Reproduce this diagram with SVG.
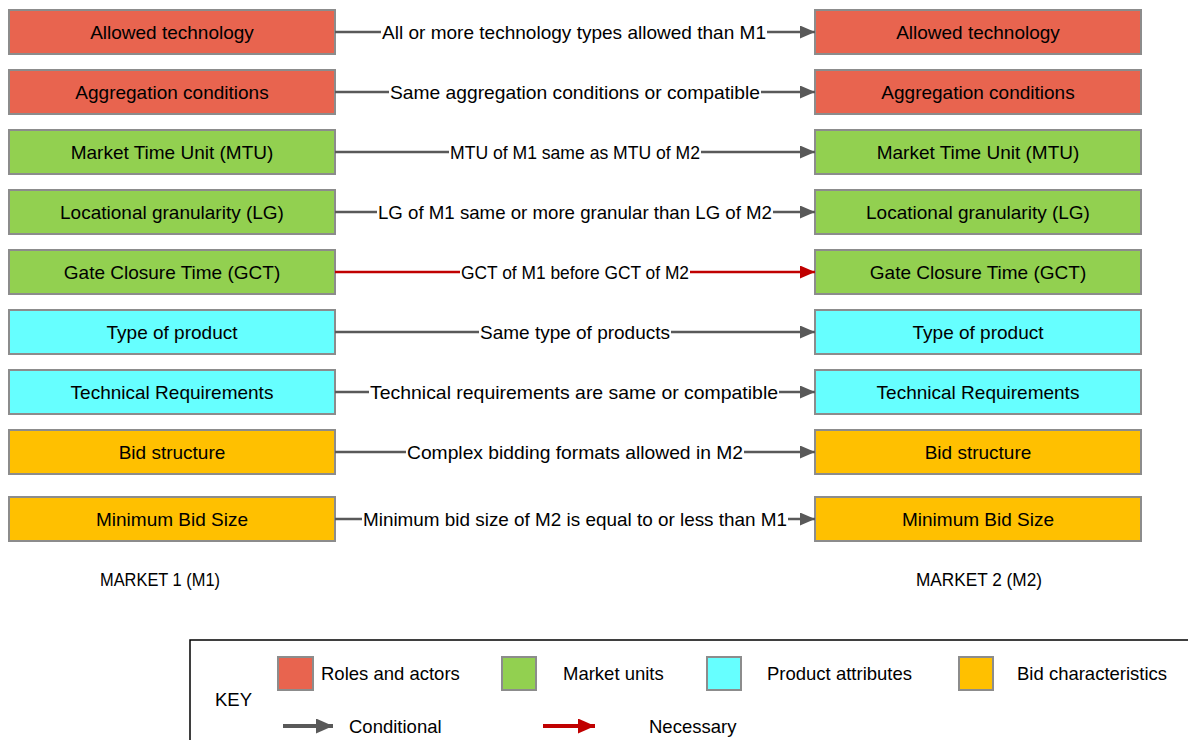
<svg xmlns="http://www.w3.org/2000/svg" width="1188" height="740" viewBox="0 0 1188 740">
  <defs>
    <marker id="arrGray" markerWidth="15" markerHeight="13" refX="15" refY="6.5" orient="auto" markerUnits="userSpaceOnUse">
      <path d="M0,0 L15,6.5 L0,13 Z" fill="#595959"/>
    </marker>
    <marker id="arrRed" markerWidth="15" markerHeight="13" refX="15" refY="6.5" orient="auto" markerUnits="userSpaceOnUse">
      <path d="M0,0 L15,6.5 L0,13 Z" fill="#C00000"/>
    </marker>
    <marker id="keyGray" markerWidth="17" markerHeight="15" refX="17" refY="7.5" orient="auto" markerUnits="userSpaceOnUse">
      <path d="M0,0 L17,7.5 L0,15 Z" fill="#595959"/>
    </marker>
    <marker id="keyRed" markerWidth="17" markerHeight="15" refX="17" refY="7.5" orient="auto" markerUnits="userSpaceOnUse">
      <path d="M0,0 L17,7.5 L0,15 Z" fill="#C00000"/>
    </marker>
    <style>
      text { font-family: "Liberation Sans", Arial, sans-serif; font-size: 18.5px; fill: #000; }
      .box { stroke: #8C8C8C; stroke-width: 2; }
      .roles { fill: #E8644F; }
      .units { fill: #92D050; }
      .prod { fill: #66FFFF; }
      .bid { fill: #FFC000; }
      .lbl { text-anchor: middle; dominant-baseline: central; }
      .node { font-size: 19px; }
      .cond { stroke: #595959; stroke-width: 2.5; fill: none; }
      .nec { stroke: #C00000; stroke-width: 2.5; fill: none; }
      .thick { stroke-width: 4; }
      .mask { fill: #FFFFFF; }
    </style>
  </defs>

  <!-- Market 1 column -->
  <g id="m1-allowed-technology"><rect class="box roles" x="9" y="10" width="326" height="44"/><text class="lbl node" x="172" y="32">Allowed technology</text></g>
  <g id="m1-aggregation"><rect class="box roles" x="9" y="70" width="326" height="44"/><text class="lbl node" x="172" y="92">Aggregation conditions</text></g>
  <g id="m1-mtu"><rect class="box units" x="9" y="130" width="326" height="44"/><text class="lbl node" x="172" y="152">Market Time Unit (MTU)</text></g>
  <g id="m1-lg"><rect class="box units" x="9" y="190" width="326" height="44"/><text class="lbl node" x="172" y="212">Locational granularity (LG)</text></g>
  <g id="m1-gct"><rect class="box units" x="9" y="250" width="326" height="44"/><text class="lbl node" x="172" y="272">Gate Closure Time (GCT)</text></g>
  <g id="m1-product"><rect class="box prod" x="9" y="310" width="326" height="44"/><text class="lbl node" x="172" y="332">Type of product</text></g>
  <g id="m1-techreq"><rect class="box prod" x="9" y="370" width="326" height="44"/><text class="lbl node" x="172" y="392">Technical Requirements</text></g>
  <g id="m1-bid-structure"><rect class="box bid" x="9" y="430" width="326" height="44"/><text class="lbl node" x="172" y="452">Bid structure</text></g>
  <g id="m1-min-bid"><rect class="box bid" x="9" y="497" width="326" height="44"/><text class="lbl node" x="172" y="519">Minimum Bid Size</text></g>

  <!-- Market 2 column -->
  <g id="m2-allowed-technology"><rect class="box roles" x="815" y="10" width="326" height="44"/><text class="lbl node" x="978" y="32">Allowed technology</text></g>
  <g id="m2-aggregation"><rect class="box roles" x="815" y="70" width="326" height="44"/><text class="lbl node" x="978" y="92">Aggregation conditions</text></g>
  <g id="m2-mtu"><rect class="box units" x="815" y="130" width="326" height="44"/><text class="lbl node" x="978" y="152">Market Time Unit (MTU)</text></g>
  <g id="m2-lg"><rect class="box units" x="815" y="190" width="326" height="44"/><text class="lbl node" x="978" y="212">Locational granularity (LG)</text></g>
  <g id="m2-gct"><rect class="box units" x="815" y="250" width="326" height="44"/><text class="lbl node" x="978" y="272">Gate Closure Time (GCT)</text></g>
  <g id="m2-product"><rect class="box prod" x="815" y="310" width="326" height="44"/><text class="lbl node" x="978" y="332">Type of product</text></g>
  <g id="m2-techreq"><rect class="box prod" x="815" y="370" width="326" height="44"/><text class="lbl node" x="978" y="392">Technical Requirements</text></g>
  <g id="m2-bid-structure"><rect class="box bid" x="815" y="430" width="326" height="44"/><text class="lbl node" x="978" y="452">Bid structure</text></g>
  <g id="m2-min-bid"><rect class="box bid" x="815" y="497" width="326" height="44"/><text class="lbl node" x="978" y="519">Minimum Bid Size</text></g>

  <!-- Connectors between the two markets; each label sits on a white patch over its line -->
  <g id="connectors">
    <line class="cond" x1="335" y1="32" x2="815" y2="32" marker-end="url(#arrGray)"/>
    <rect class="mask" x="381" y="20" width="386" height="24"/>
    <text class="lbl" x="574" y="32" textLength="384" lengthAdjust="spacingAndGlyphs">All or more technology types allowed than M1</text>

    <line class="cond" x1="335" y1="92" x2="815" y2="92" marker-end="url(#arrGray)"/>
    <rect class="mask" x="389" y="80" width="372" height="24"/>
    <text class="lbl" x="575" y="92" textLength="370" lengthAdjust="spacingAndGlyphs">Same aggregation conditions or compatible</text>

    <line class="cond" x1="335" y1="152" x2="815" y2="152" marker-end="url(#arrGray)"/>
    <rect class="mask" x="449" y="140" width="252" height="24"/>
    <text class="lbl" x="575" y="152" textLength="250" lengthAdjust="spacingAndGlyphs">MTU of M1 same as MTU of M2</text>

    <line class="cond" x1="335" y1="212" x2="815" y2="212" marker-end="url(#arrGray)"/>
    <rect class="mask" x="377" y="200" width="396" height="24"/>
    <text class="lbl" x="575" y="212" textLength="394" lengthAdjust="spacingAndGlyphs">LG of M1 same or more granular than LG of M2</text>

    <line class="nec" x1="335" y1="272" x2="815" y2="272" marker-end="url(#arrRed)"/>
    <rect class="mask" x="460" y="260" width="230" height="24"/>
    <text class="lbl" x="575" y="272" textLength="228" lengthAdjust="spacingAndGlyphs">GCT of M1 before GCT of M2</text>

    <line class="cond" x1="335" y1="332" x2="815" y2="332" marker-end="url(#arrGray)"/>
    <rect class="mask" x="479" y="320" width="192" height="24"/>
    <text class="lbl" x="575" y="332" textLength="190" lengthAdjust="spacingAndGlyphs">Same type of products</text>

    <line class="cond" x1="335" y1="392" x2="815" y2="392" marker-end="url(#arrGray)"/>
    <rect class="mask" x="369" y="380" width="410" height="24"/>
    <text class="lbl" x="574" y="392" textLength="408" lengthAdjust="spacingAndGlyphs">Technical requirements are same or compatible</text>

    <line class="cond" x1="335" y1="452" x2="815" y2="452" marker-end="url(#arrGray)"/>
    <rect class="mask" x="406" y="440" width="338" height="24"/>
    <text class="lbl" x="575" y="452" textLength="336" lengthAdjust="spacingAndGlyphs">Complex bidding formats allowed in M2</text>

    <line class="cond" x1="335" y1="519" x2="815" y2="519" marker-end="url(#arrGray)"/>
    <rect class="mask" x="362" y="507" width="426" height="24"/>
    <text class="lbl" x="575" y="519" textLength="424" lengthAdjust="spacingAndGlyphs">Minimum bid size of M2 is equal to or less than M1</text>
  </g>

  <!-- Column captions -->
  <text x="160" y="586" text-anchor="middle" textLength="120" lengthAdjust="spacingAndGlyphs">MARKET 1 (M1)</text>
  <text x="979" y="586" text-anchor="middle" textLength="126" lengthAdjust="spacingAndGlyphs">MARKET 2 (M2)</text>

  <!-- Key -->
  <g id="key">
    <path d="M190,740 V640 H1190" fill="none" stroke="#000" stroke-width="1.5"/>
    <text x="215" y="706">KEY</text>
    <rect class="box roles" x="278" y="657" width="35" height="33"/>
    <text x="321" y="680">Roles and actors</text>
    <rect class="box units" x="502" y="657" width="34" height="33"/>
    <text x="563" y="680">Market units</text>
    <rect class="box prod" x="707" y="657" width="34" height="33"/>
    <text x="767" y="680">Product attributes</text>
    <rect class="box bid" x="959" y="657" width="34" height="33"/>
    <text x="1017" y="680">Bid characteristics</text>
    <line class="cond thick" x1="283" y1="726" x2="333" y2="726" marker-end="url(#keyGray)"/>
    <text x="349" y="733">Conditional</text>
    <line class="nec thick" x1="543" y1="726" x2="595" y2="726" marker-end="url(#keyRed)"/>
    <text x="649" y="733">Necessary</text>
  </g>
</svg>
